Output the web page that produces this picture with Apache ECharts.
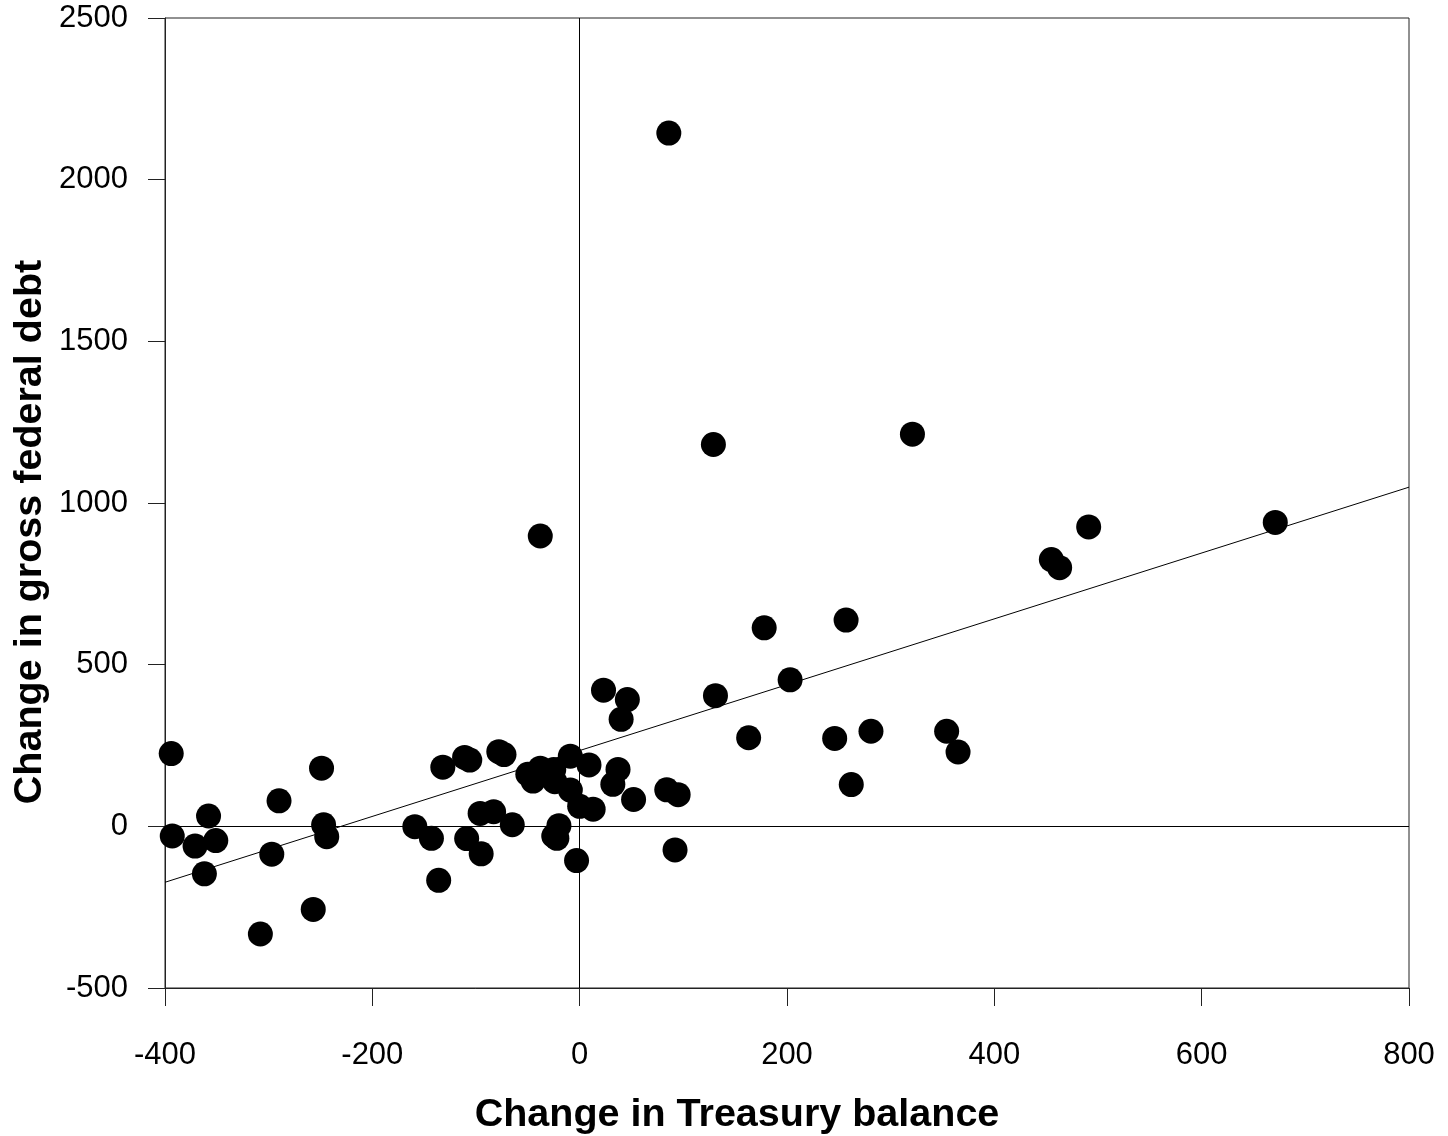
<!DOCTYPE html>
<html>
<head>
<meta charset="utf-8">
<script src="https://cdn.jsdelivr.net/npm/echarts@6/dist/echarts.min.js"></script>
<style>
html,body{margin:0;padding:0;background:#fff;}
#chart{width:1448px;height:1136px;}
</style>
</head>
<body>
<div id="chart"></div>
<script>
// Change in Treasury balance (x) and change in gross federal debt (y)
const treasuryChange = [
  -394, -393, -371, -358, -351, -362, -290, -297, -308, -257, -249, -247, -244,
  -159, -143, -136, -132, -111, -106, -109, -95, -96, -83, -65, -78, -73,
  -50, -45, -38, -25, -24, -9, -9, 0, 13, 9, -20, -25, -22, -3, -38,
  23, 46, 40, 37, 32, 52, 84, 95, 92, 86,
  129, 131, 163, 178, 203, 246, 257, 262, 281, 321, 354, 365, 455, 463, 491, 671
];
const debtChange = [
  225, -30, -61, 32, -44, -147, 79, -86, -333, -257, 180, 5, -32,
  -1, -37, -167, 183, 213, 205, -38, -85, 40, 45, 5, 231, 222,
  161, 140, 180, 176, 138, 217, 112, 62, 53, 190, 2, -30, -37, -106, 898,
  421, 392, 331, 176, 130, 83, 113, 98, -73, 2144,
  1181, 404, 274, 614, 453, 272, 638, 129, 294, 1213, 294, 230, 825, 800, 926, 940
];
// Fitted line endpoints
const fitX = [-400, 800];
const fitY = [-173, 1049];
// Axis tick values
const xTicks = [-400, -200, 0, 200, 400, 600, 800];
const yTicks = [-500, 0, 500, 1000, 1500, 2000, 2500];

const points = treasuryChange.map((x, i) => [x, debtChange[i]]);
const fitLine = fitX.map((x, i) => [x, fitY[i]]);

const chart = echarts.init(document.getElementById('chart'));
const lineCol = '#222';
const font = '"Liberation Sans", Arial, sans-serif';

chart.setOption({
  animation: false,
  backgroundColor: '#fff',
  grid: {
    left: 165, top: 18, width: 1244, height: 970,
    show: true, borderColor: lineCol, borderWidth: 1, backgroundColor: 'transparent'
  },
  xAxis: {
    type: 'value',
    min: xTicks[0], max: xTicks[xTicks.length - 1], interval: 200,
    axisLine: { show: true, onZero: false, lineStyle: { color: lineCol, width: 1 } },
    axisTick: { show: true, length: 18, lineStyle: { color: lineCol, width: 1 } },
    axisLabel: { fontFamily: font, fontSize: 31, color: '#000', margin: 52, formatter: v => String(v) },
    splitLine: { show: false }
  },
  yAxis: {
    type: 'value',
    min: yTicks[0], max: yTicks[yTicks.length - 1], interval: 500,
    axisLine: { show: true, onZero: false, lineStyle: { color: lineCol, width: 1 } },
    axisTick: { show: true, length: 17, lineStyle: { color: lineCol, width: 1 } },
    axisLabel: { fontFamily: font, fontSize: 31, color: '#000', margin: 37, formatter: v => String(v) },
    splitLine: { show: false }
  },
  graphic: [
    {
      type: 'text', x: 737, y: 1115,
      style: {
        text: 'Change in Treasury balance',
        font: 'bold 39.5px "Liberation Sans", Arial, sans-serif',
        fill: '#000', textAlign: 'center', textVerticalAlign: 'middle'
      }
    },
    {
      type: 'text', x: 30, y: 532, rotation: Math.PI / 2,
      style: {
        text: 'Change in gross federal debt',
        font: 'bold 39.5px "Liberation Sans", Arial, sans-serif',
        fill: '#000', textAlign: 'center', textVerticalAlign: 'middle'
      }
    }
  ],
  series: [
    {
      type: 'line',
      data: fitLine,
      showSymbol: false,
      symbol: 'none',
      lineStyle: { color: '#000', width: 1 },
      z: 1,
      silent: true,
      markLine: {
        silent: true,
        symbol: ['none', 'none'],
        label: { show: false },
        lineStyle: { color: '#000', width: 1, type: 'solid' },
        data: [{ xAxis: 0 }, { yAxis: 0 }]
      }
    },
    {
      type: 'scatter',
      data: points,
      symbol: 'circle',
      symbolSize: 25,
      itemStyle: { color: '#000', opacity: 1 },
      z: 5
    }
  ]
});
</script>
</body>
</html>
